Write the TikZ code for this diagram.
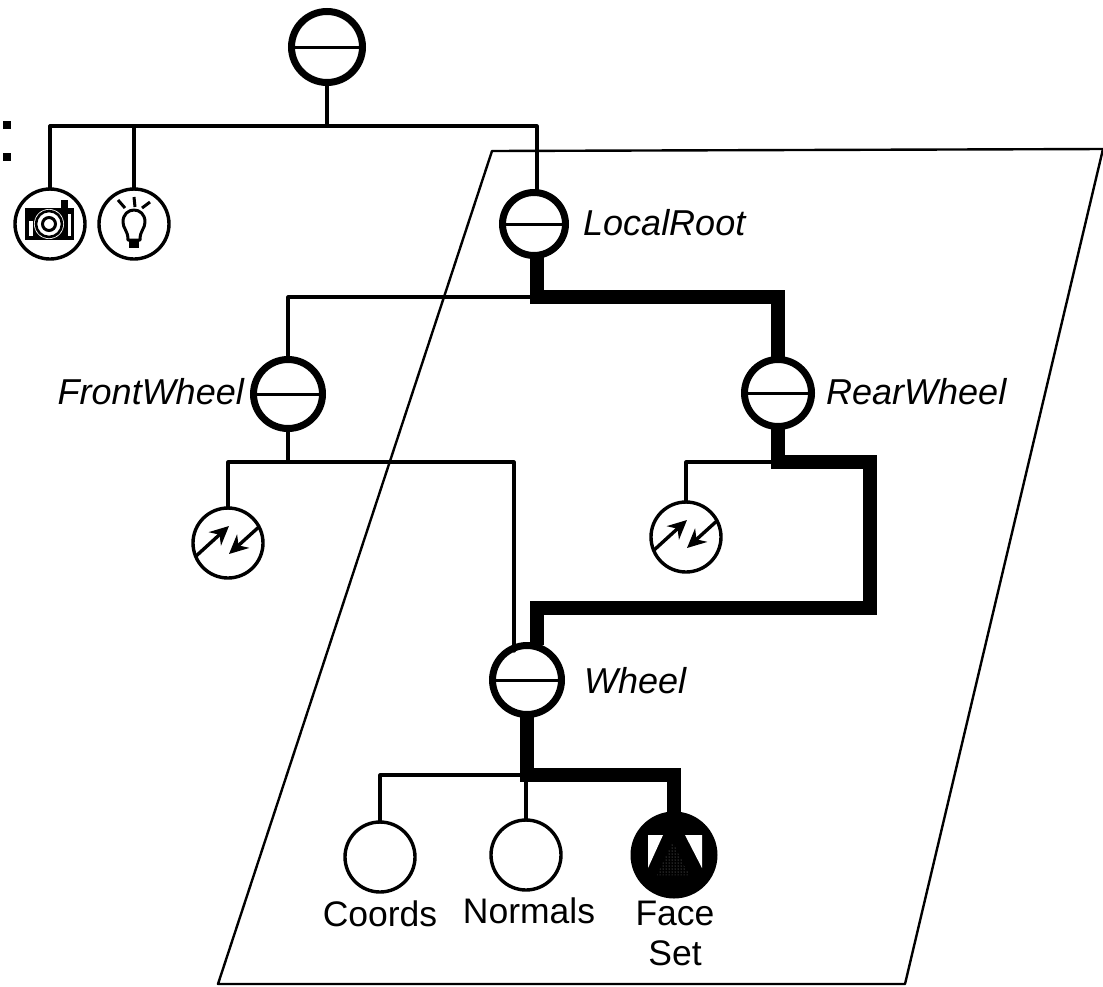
\documentclass[tikz,border=0pt]{standalone}
\usepackage{fontspec}
\setmainfont{Liberation Sans}
\usetikzlibrary{arrows.meta,patterns}
\tikzset{
  thinl/.style={line width=3.2pt,line join=round,line cap=round},
  thickl/.style={line width=14pt,line join=miter},
  plane/.style={line width=2.4pt,line join=round},
  base/.style={circle,draw,fill=white,inner sep=0pt,outer sep=0pt},
  groupn/.style={base,line width=7pt,minimum size=#1,
    path picture={\draw[line width=3pt] (path picture bounding box.west)--(path picture bounding box.east);}},
  groupn/.default=69pt,
  plain/.style={base,line width=3.4pt,minimum size=70pt},
  xformn/.style={plain,path picture={
    \draw[line width=3.4pt,-{Stealth[length=19pt,width=18pt]}] ([shift={(-33,14)}]path picture bounding box.center)--([shift={(1,-17)}]path picture bounding box.center);
    \draw[line width=3.4pt,-{Stealth[length=19pt,width=18pt]}] ([shift={(33,-18)}]path picture bounding box.center)--([shift={(1,11)}]path picture bounding box.center);}},
  lab/.style={font=\fontsize{36}{40}\selectfont\itshape,inner sep=0pt},
  captxt/.style={font=\fontsize{35.5}{40}\selectfont,inner sep=0pt,align=center},
}
\begin{document}
\begin{tikzpicture}[x=1pt,y=-1pt]
\useasboundingbox (0,0) rectangle (1103,986);
% plane
\draw[plane] (492,151)--(1103,149)--(905,984)--(218,984)--cycle;
% marks
\fill (3,121) rectangle (11,129);
\fill (3,153) rectangle (11,161);
% nodes
\node[groupn=71pt] (top) at (327,47) {};
\node[plain] (cam) at (50,224) {};
\node[plain] (light) at (134,224) {};
\node[groupn=63pt] (root) at (534,224) {};
\node[groupn] (front) at (288,394) {};
\node[groupn=67pt] (rear) at (778,393) {};
\node[xformn] (xf) at (228,543) {};
\node[xformn] (xr) at (686,537) {};
\node[groupn] (wheel) at (527,680) {};
\node[plain] (coords) at (380,857) {};
\node[plain] (normals) at (526,855) {};
\node[base,fill=black,line width=3pt,minimum size=84pt] (face) at (674,855) {};
% coordinates
\coordinate (bus) at (327,126);
\coordinate (busr) at (537,126);
\coordinate (rootj) at (537,297);
\coordinate (frontj) at (288,462);
\coordinate (rearj) at (778,462);
\coordinate (wheelj) at (527,775);
\coordinate (wheelin) at (537,645);
% thin connectors
\draw[thinl] (top.south)--(bus);
\draw[thinl] (cam.north)--(50,126)--(busr)--(busr|-root.north);
\draw[thinl] (light.north)--(134,126);
\draw[thinl] (rootj)--(288,297)--(front.north);
\draw[thinl] (front.south)--(frontj);
\draw[thinl] (xf.north)--(228,462)--(514,462)--(514,651);
\draw[thinl] (rearj)--(686,462)--(xr.north);
\draw[thinl] (wheelj)--(380,775)--(coords.north);
\draw[thinl] (wheelj-|normals.north)--(normals.north);
% thick connectors
\draw[thickl] (rootj|-root.south)--(rootj)--(778,297)--(rear.north);
\draw[thickl] (rear.south)--(rearj)--(870,462)--(870,608)--(537,608)--(wheelin);
\draw[thickl] (wheel.south)--(wheelj)--(674,775)--(face.north);
% icons
\fill (25,208) rectangle (74,240);
\fill (61,200) rectangle (68,208);
\fill[white] (49,224) circle (15);
\draw[line width=2.6pt] (49,224) circle (13);
\draw[line width=3pt] (49,224) circle (6.5);
\fill[white] (29,221) rectangle (33,236);
\fill[white] (68,214) rectangle (71,236);
\draw[line width=3pt] (118,200)--(125,208);
\draw[line width=3pt] (134,197)--(135,207);
\draw[line width=3pt] (150,202)--(142,208);
\draw[line width=3pt,line join=round] (128,240) .. controls (128,230) and (123,229) .. (123,222) .. controls (123,206) and (145,206) .. (145,222) .. controls (145,229) and (140,230) .. (140,240) -- cycle;
\fill (129,240) rectangle (139,248);
\fill[white] (648,835)--(663,835)--(648,868)--cycle;
\fill[white] (685,835)--(702,835)--(702,868)--cycle;
\path[pattern=dots,pattern color=black!45] (673,842)--(657,875)--(689,875)--cycle;
% labels
\node[lab,anchor=west] (l1) at (583,223) {LocalRoot};
\node[lab,anchor=east] (l2) at (244,392) {FrontWheel};
\node[lab,anchor=west] (l3) at (826,392) {RearWheel};
\node[lab,anchor=west] (l4) at (584,681) {Wheel};
\node[captxt] (l5) at (380,914) {Coords};
\node[captxt] (l6) at (529,911) {Normals};
\node[captxt] (l7) at (675,933) {Face\\Set};
\end{tikzpicture}
\end{document}
